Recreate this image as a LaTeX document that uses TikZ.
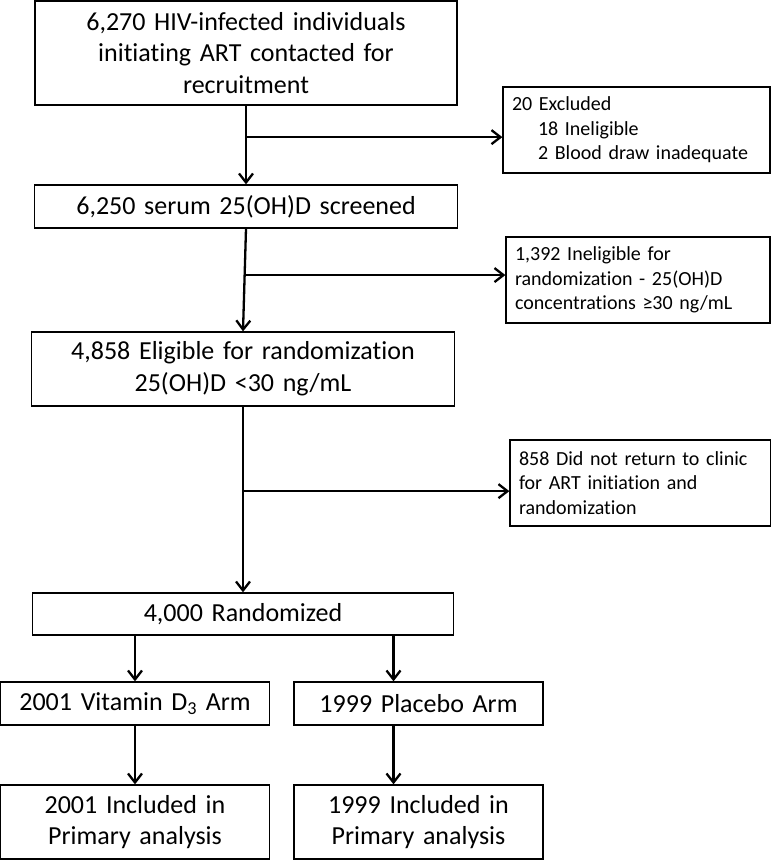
\documentclass[tikz,border=0pt]{standalone}
\usepackage{fontspec}
\setmainfont[Ligatures=NoCommon]{Carlito}
\usetikzlibrary{arrows.meta, calc}

\begin{document}
\begin{tikzpicture}[x=1pt, y=1pt]
\tikzstyle{block} = [rectangle, draw, line width=1.3pt, inner sep=0pt,
    text centered, font=\fontsize{26}{31.7}\selectfont]
\tikzstyle{aside} = [rectangle, draw, line width=1.3pt, inner xsep=9pt,
    inner ysep=0pt, align=left, minimum height=86pt,
    font=\fontsize{20}{24.4}\selectfont]
\tikzstyle{line} = [draw, line width=2.3pt, -{Straight Barb[length=9pt,width=14pt]}]

\useasboundingbox (0,0) rectangle (771,-860);

 \node [block, text width=422pt, minimum height=104pt] (contact) at (246,-53)
   {6,270 HIV-infected individuals\\ initiating ART contacted for\\ recruitment};
 \node [block, text width=423pt, minimum height=43pt, below of=contact, node distance=153.5pt] (screen)
   {6,250 serum 25(OH)D screened};
 \node [block, text width=423pt, minimum height=74pt, below of=screen, node distance=162.5pt, xshift=-3pt] (elig)
   {4,858 Eligible for randomization\\ 25(OH)D <30 ng/mL};
 \node [block, text width=421pt, minimum height=42pt, below of=elig, node distance=245pt] (rand)
   {4,000 Randomized};

 \node [block, text width=269pt, minimum height=43pt, below of=rand, node distance=89.5pt, xshift=-108pt] (vitd)
   {2001 Vitamin D\textsubscript{3} Arm};
 \node [block, text width=249pt, minimum height=43pt, right of=vitd, node distance=283.5pt] (plac)
   {1999 Placebo Arm};
 \node [block, text width=269pt, minimum height=74pt, below of=vitd, node distance=118.5pt] (vitdinc)
   {2001 Included in\\ Primary analysis};
 \node [block, text width=249pt, minimum height=74pt, below of=plac, node distance=118.5pt] (placinc)
   {1999 Included in\\ Primary analysis};

 % exclusions on the right
 \node [aside, text width=249pt] (excl) at (636.5,-130)
   {20 Excluded\\ \hspace*{26pt}18 Ineligible\\ \hspace*{26pt}2 Blood draw inadequate};
 \node [aside, text width=246pt] (inel) at (638,-280)
   {1,392 Ineligible for\\ randomization - 25(OH)D\\ concentrations ≥30 ng/mL};
 \node [aside, text width=243pt] (noret) at (640.5,-483)
   {858 Did not return to clinic\\ for ART initiation and\\ randomization};

 \coordinate (b1) at ($(contact.south)!0.4!(screen.north)$);
 \coordinate (b2) at ($(screen.south)!0.452!(elig.north)$);
 \coordinate (b3) at ($(elig.south)!0.455!(rand.north)$);
 \coordinate (pl) at ([xshift=-25pt]plac.north);
 \coordinate (pl2) at ([xshift=-25pt]plac.south);

 \path [line] (contact.south) -- (screen.north);
 \path [line] (b1) -- (b1 -| excl.west);
 \path [line] (screen.south) -- (elig.north);
 \path [line] (b2) -- (b2 -| inel.west);
 \path [line] (elig.south) -- (rand.north);
 \path [line] (b3) -- (b3 -| noret.west);

 \path [line] (vitd.north |- rand.south) -- (vitd.north);
 \path [line] (pl |- rand.south) -- (pl);
 \path [line] (vitd.south) -- (vitdinc.north);
 \path [line] (pl2) -- (pl2 |- placinc.north);
\end{tikzpicture}
\end{document}
